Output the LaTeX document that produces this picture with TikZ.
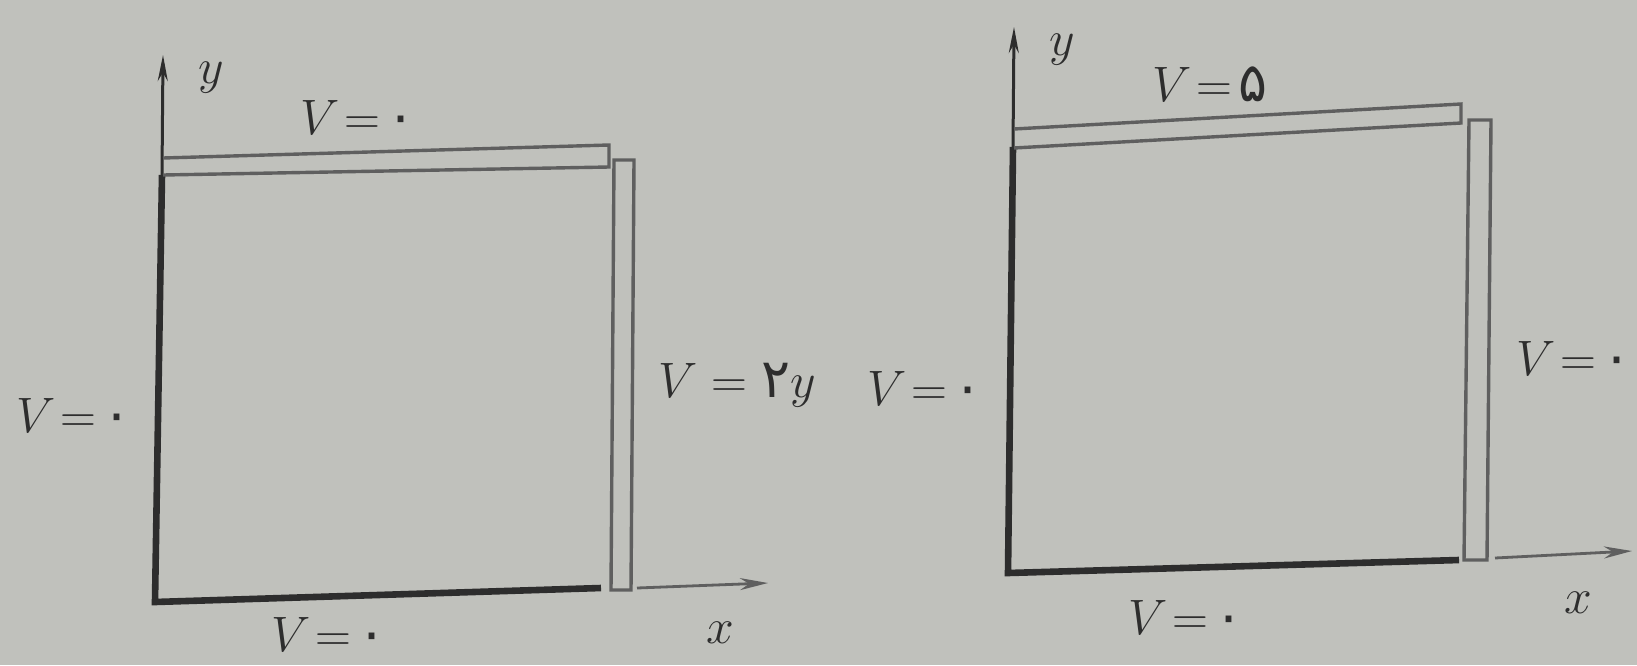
\documentclass[tikz,border=0pt]{standalone}
\usepackage{fontspec}
\newfontfamily\fa[Script=Arabic]{DejaVu Sans}
\usetikzlibrary{arrows.meta}
\definecolor{bg}{RGB}{192,193,188}
\definecolor{ink}{RGB}{45,45,45}
\definecolor{platec}{RGB}{95,95,95}
\tikzset{
  lbl/.style={text=ink, font=\fontsize{27}{31}\selectfont, inner sep=0pt},
  boldline/.style={draw=ink, line width=3.3pt},
  yaxisline/.style={draw=ink, line width=1.5pt, -{Stealth[length=13pt,width=5pt]}},
  xaxisline/.style={draw=platec, line width=1.4pt, -{Stealth[length=14pt,width=6pt]}},
  platestyle/.style={draw=platec, line width=1.7pt, line join=miter},
}
\newcommand{\pz}{\hbox{\fa ۰}}
\newcommand{\veq}{$V\mkern-3mu=$\hspace{3pt}}
\begin{document}
\begin{tikzpicture}[x=0.5pt,y=-0.5pt]
\fill[bg] (0,0) rectangle (1637,665);
\useasboundingbox (0,0) rectangle (1637,665);

% ---------- left panel ----------
\coordinate (LO) at (155,602);
\coordinate (LYtop) at (163,55);
\coordinate (LYplate) at (162,175);
\coordinate (LBend) at (601,588);
\coordinate (LXs) at (637,588);
\coordinate (LXe) at (768,583);
\draw[yaxisline] (LYplate) -- (LYtop);
\draw[boldline, line join=miter] (LYplate) -- (LO) -- (LBend);
\draw[xaxisline] (LXs) -- (LXe);
% top plate
\draw[platestyle] (163,158) -- (609,145) -- (609,167) -- (163,175);
% right plate
\draw[platestyle] (614,160) -- (634,160) -- (631,590) -- (611,590) -- cycle;

\node[lbl] (Ly) at (211,78) {$y$};
\node[lbl] (Lx) at (720,633) {$x$};
\node[lbl] (Ltop) at (358,117) {\veq\pz};
\node[lbl] (Lleft) at (74,415) {\veq\pz};
\node[lbl] (Lright) at (737,385) {$V = \hbox{\fa ۲}y$};
\node[lbl] (Lbot) at (329,634) {\veq\pz};

% ---------- right panel ----------
\coordinate (RO) at (1008,573);
\coordinate (RYtop) at (1014,27);
\coordinate (RYplate) at (1013,147);
\coordinate (RBend) at (1459,560);
\coordinate (RXs) at (1495,558);
\coordinate (RXe) at (1632,551);
\draw[yaxisline] (RYplate) -- (RYtop);
\draw[boldline, line join=miter] (RYplate) -- (RO) -- (RBend);
\draw[xaxisline] (RXs) -- (RXe);
% top plate
\draw[platestyle] (1014,129) -- (1461,104) -- (1461,123) -- (1014,148);
% right plate
\draw[platestyle] (1469,120) -- (1491,120) -- (1487,560) -- (1464,560) -- cycle;

\node[lbl] (Ry) at (1062,50) {$y$};
\node[lbl] (Rx) at (1578,603) {$x$};
\node[lbl] (Rtop) at (1210,84) {\veq\hbox{\fa ۵}};
\node[lbl] (Rleft) at (925,388) {\veq\pz};
\node[lbl, anchor=east] (Rright) at (1632,358) {\veq\pz};
\node[lbl] (Rbot) at (1186,617) {\veq\pz};
\end{tikzpicture}
\end{document}
